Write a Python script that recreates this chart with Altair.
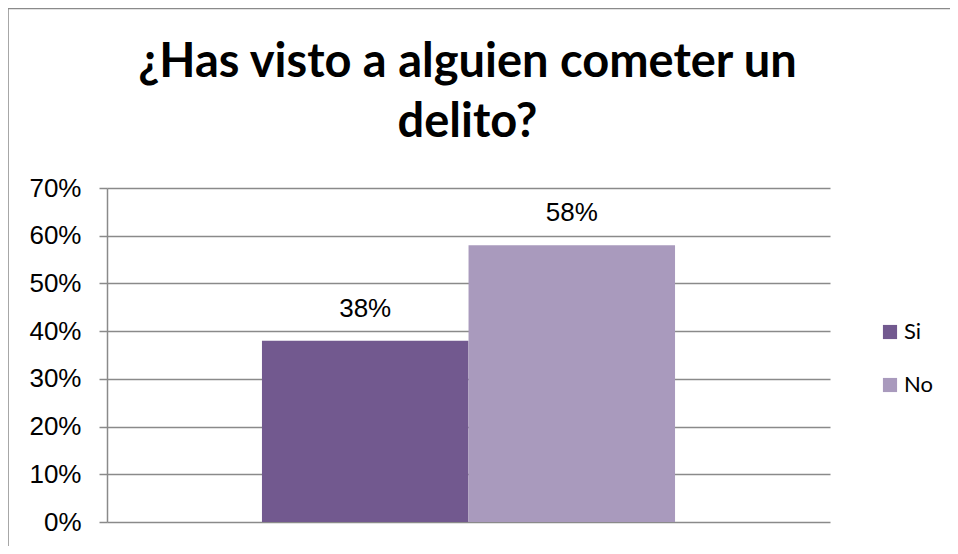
import altair as alt
import pandas as pd

series = ["Si", "No"]
values = [0.38, 0.58]
colors = ["#72598F", "#A99ABD"]
y_ticks = [0, 0.1, 0.2, 0.3, 0.4, 0.5, 0.6, 0.7]
title_lines = ["¿Has visto a alguien cometer un", "delito?"]

df = pd.DataFrame({"serie": series, "valor": values})

W, H = 723, 334
GRID = "#8A8A8A"

x_enc = alt.X("serie:N", scale=alt.Scale(domain=series, paddingInner=0, paddingOuter=0.75), axis=None)
y_scale = alt.Scale(domain=[0, 0.7], nice=False)

bars = alt.Chart(df).mark_bar(size=206.5).encode(
    x=x_enc,
    y=alt.Y("valor:Q", scale=y_scale,
            axis=alt.Axis(values=y_ticks, format=".0%", title=None,
                          labelFont="Liberation Sans", labelFontSize=26, labelColor="#000000",
                          labelPadding=18, tickSize=8, tickColor=GRID, tickWidth=1.5,
                          domainColor=GRID, domainWidth=1.5,
                          grid=True, gridColor=GRID, gridWidth=1.5)),
    color=alt.Color("serie:N", scale=alt.Scale(domain=series, range=colors),
                    legend=alt.Legend(title=None, orient="none", legendX=772, legendY=133,
                                      symbolType="square", symbolSize=200, symbolStrokeWidth=0,
                                      labelFont="Lato", labelFontSize=22, labelColor="#000000",
                                      rowPadding=31, labelOffset=3)),
)

labels = alt.Chart(df).mark_text(baseline="alphabetic", dy=-24, font="Liberation Sans",
                                 fontSize=26, color="#000000").encode(
    x=x_enc,
    y=alt.Y("valor:Q", scale=y_scale),
    text=alt.Text("valor:Q", format=".0%"),
)

title_df = pd.DataFrame({"linea": title_lines, "orden": [0, 1]})
title1 = alt.Chart(title_df).transform_filter("datum.orden == 0").mark_text(
    font="Lato", fontWeight="bold", fontSize=47, color="#000000", baseline="alphabetic", align="center"
).encode(x=alt.value(W / 2 - 1), y=alt.value(-111), text="linea:N")
title2 = alt.Chart(title_df).transform_filter("datum.orden == 1").mark_text(
    font="Lato", fontWeight="bold", fontSize=47, color="#000000", baseline="alphabetic", align="center"
).encode(x=alt.value(W / 2 - 1), y=alt.value(-51), text="linea:N")

frame_df = pd.DataFrame({"a": [0]})
left_border = alt.Chart(frame_df).mark_rule(color=GRID, strokeWidth=1.5).encode(
    x=alt.value(-99), y=alt.value(-180), y2=alt.value(H + 40))
top_border = alt.Chart(frame_df).mark_rule(color=GRID, strokeWidth=1.5).encode(
    x=alt.value(-99), x2=alt.value(W + 130), y=alt.value(-179.5))

chart = alt.layer(left_border, top_border, bars, labels, title1, title2).properties(
    width=W, height=H,
    autosize=alt.AutoSizeParams(type="none"),
    padding={"left": 99, "top": 180, "right": 120, "bottom": 24},
).configure_view(stroke=None)

chart.save("out.html", embed_options={"renderer": "svg", "actions": False})
